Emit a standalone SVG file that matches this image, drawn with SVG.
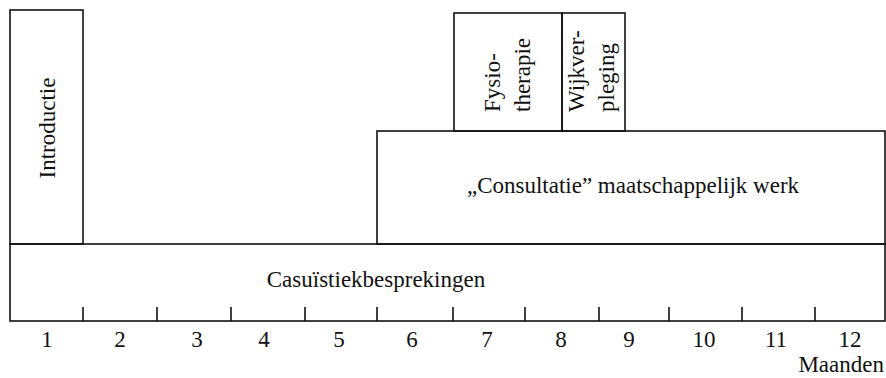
<svg xmlns="http://www.w3.org/2000/svg" width="886" height="378" viewBox="0 0 886 378">
<style>
.box{fill:none;stroke:#111;stroke-width:1.6}
.tk{stroke:#111;stroke-width:1.6}
text{font-family:"Liberation Serif","Times New Roman",serif;font-size:23px;fill:#111}
.c{text-anchor:middle}
</style>
<rect width="886" height="378" fill="#fff"/>
<g id="introductie">
<rect class="box" x="10" y="10" width="73" height="234"/>
<text class="c" transform="translate(55,128) rotate(-90)">Introductie</text>
</g>
<g id="consultatie">
<rect class="box" x="377" y="131" width="508" height="113"/>
<text class="c" x="633" y="193">„Consultatie” maatschappelijk werk</text>
</g>
<g id="fysiotherapie">
<rect class="box" x="454" y="13" width="108" height="118"/>
<text transform="translate(500,112) rotate(-90)">Fysio-</text>
<text transform="translate(530,112) rotate(-90)">therapie</text>
</g>
<g id="wijkverpleging">
<rect class="box" x="562" y="13" width="63" height="118"/>
<text transform="translate(584,112) rotate(-90)">Wijkver-</text>
<text transform="translate(614,112) rotate(-90)">pleging</text>
</g>
<g id="casuistiek">
<rect class="box" x="10" y="244" width="875" height="77"/>
<text class="c" x="376" y="287">Casuïstiekbesprekingen</text>
</g>
<g id="axis">
<path class="tk" d="M83 307V321M157 307V321M231 307V321M305 307V321M377 307V321M453 307V321M525 307V321M599 307V321M669 307V321M742 307V321M815 307V321"/>
<text class="c" x="47" y="347">1</text>
<text class="c" x="120" y="347">2</text>
<text class="c" x="197" y="347">3</text>
<text class="c" x="264" y="347">4</text>
<text class="c" x="339" y="347">5</text>
<text class="c" x="412" y="347">6</text>
<text class="c" x="487" y="347">7</text>
<text class="c" x="561" y="347">8</text>
<text class="c" x="629" y="347">9</text>
<text class="c" x="704" y="347">10</text>
<text class="c" x="776" y="347">11</text>
<text class="c" x="850" y="347">12</text>
<text x="884" y="372" text-anchor="end">Maanden</text>
</g>
</svg>
